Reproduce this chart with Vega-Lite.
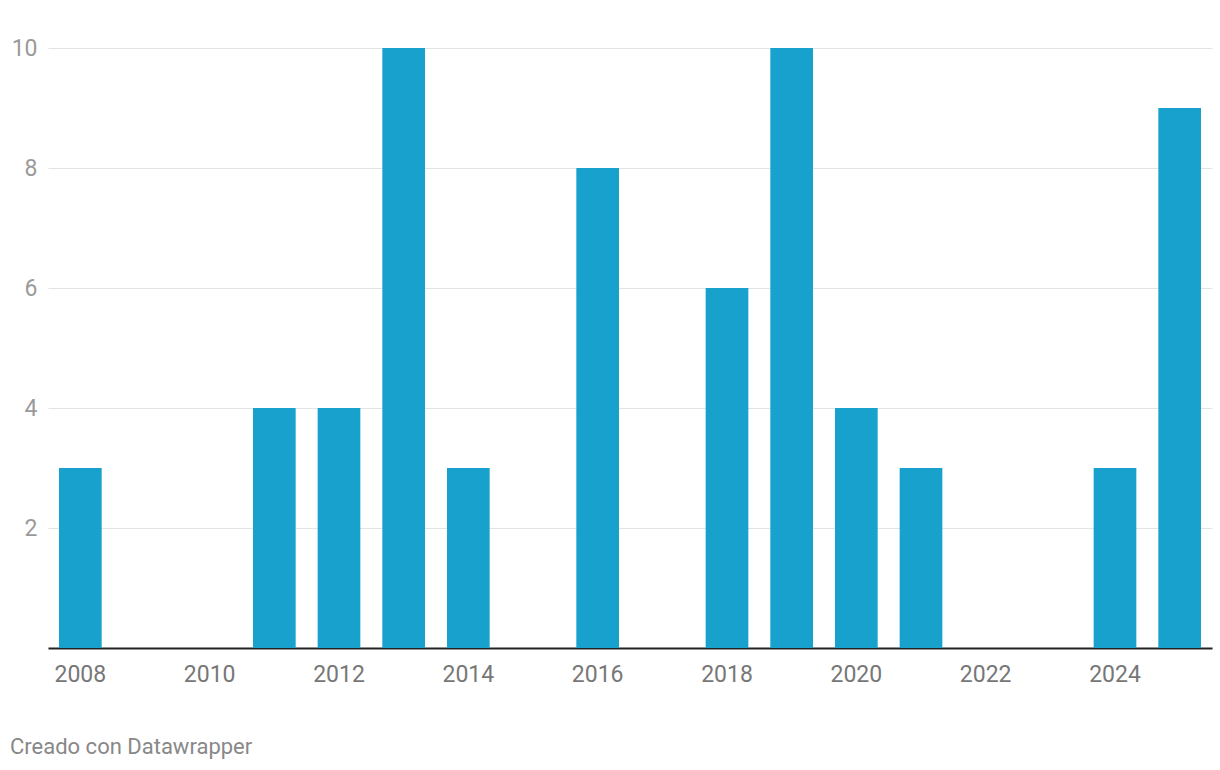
{
  "$schema": "https://vega.github.io/schema/vega-lite/v6.json",
  "width": 1164,
  "height": 600,
  "autosize": "none",
  "padding": {"left": 48, "top": 48, "right": 8, "bottom": 122},
  "background": "white",
  "config": {
    "view": {"stroke": null},
    "font": "Roboto"
  },
  "title": {
    "text": "Creado con Datawrapper",
    "orient": "bottom",
    "anchor": "start",
    "frame": "group",
    "dx": -38,
    "offset": 51,
    "font": "Roboto",
    "fontSize": 22,
    "fontWeight": "normal",
    "color": "#888888"
  },
  "data": {
    "values": [
      {"year": 2008, "count": 3},
      {"year": 2009, "count": 0},
      {"year": 2010, "count": 0},
      {"year": 2011, "count": 4},
      {"year": 2012, "count": 4},
      {"year": 2013, "count": 10},
      {"year": 2014, "count": 3},
      {"year": 2015, "count": 0},
      {"year": 2016, "count": 8},
      {"year": 2017, "count": 0},
      {"year": 2018, "count": 6},
      {"year": 2019, "count": 10},
      {"year": 2020, "count": 4},
      {"year": 2021, "count": 3},
      {"year": 2022, "count": 0},
      {"year": 2023, "count": 0},
      {"year": 2024, "count": 3},
      {"year": 2025, "count": 9}
    ]
  },
  "mark": {"type": "bar", "color": "#18a1cd"},
  "encoding": {
    "x": {
      "field": "year",
      "type": "ordinal",
      "scale": {"paddingInner": 0.34, "paddingOuter": 0.17},
      "axis": {
        "title": null,
        "labelAngle": 0,
        "ticks": false,
        "domainColor": "#222222",
        "domainWidth": 2,
        "labelExpr": "datum.value % 2 == 0 ? datum.label : ''",
        "labelFont": "Roboto",
        "labelFontSize": 23,
        "labelColor": "#777777",
        "labelPadding": 15,
        "labelOverlap": false
      }
    },
    "y": {
      "field": "count",
      "type": "quantitative",
      "scale": {"domain": [0, 10], "nice": false},
      "axis": {
        "title": null,
        "values": [0, 2, 4, 6, 8, 10],
        "labelExpr": "datum.value == 0 ? '' : datum.label",
        "ticks": false,
        "domain": false,
        "gridColor": "#e3e3e3",
        "gridWidth": 1,
        "labelFont": "Roboto",
        "labelFontSize": 23,
        "labelColor": "#9a9a9a",
        "labelPadding": 11
      }
    }
  }
}
